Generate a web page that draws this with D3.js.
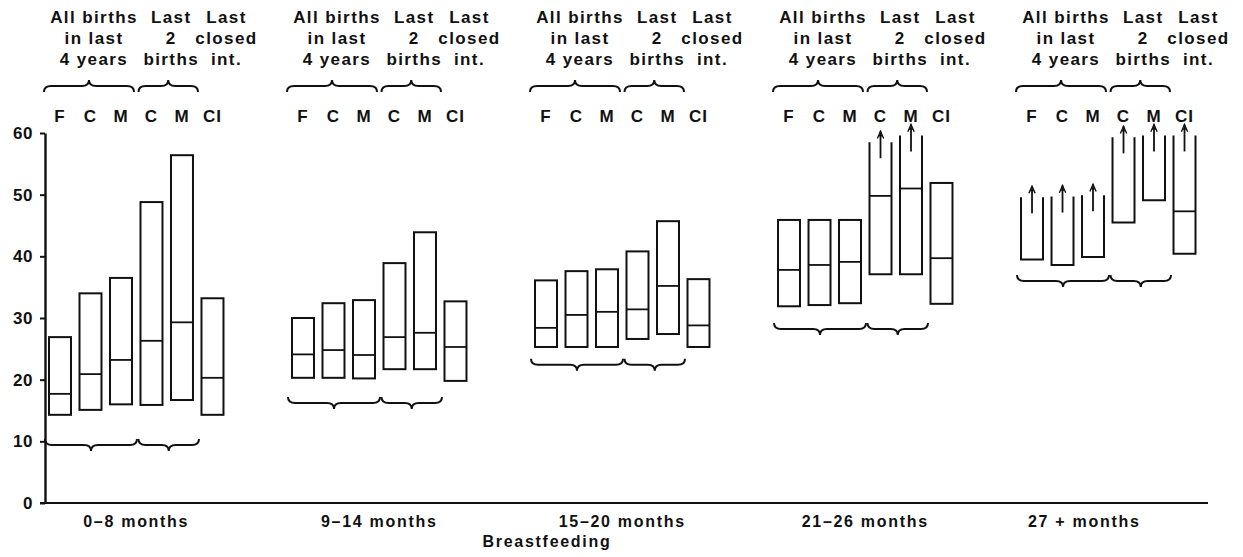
<!DOCTYPE html>
<html>
<head>
<meta charset="utf-8">
<script src="https://cdn.jsdelivr.net/npm/d3@7"></script>
<style>
  html, body { margin: 0; padding: 0; background: #fff; }
  svg text { font-family: "Liberation Sans", Arial, Helvetica, sans-serif; font-weight: bold; fill: #111; }
  .hdr { font-size: 17px; letter-spacing: 1.4px; }
  .ser { font-size: 17px; letter-spacing: 1px; }
  .grp { font-size: 16px; letter-spacing: 1.7px; }
  .ytk { font-size: 17px; letter-spacing: 0.6px; }
</style>
</head>
<body>
<svg id="chart" width="1243" height="557"></svg>
<script>
// breastfeeding duration groups
var groups = ["0–8 months", "9–14 months", "15–20 months", "21–26 months", "27 + months"];
var seriesKeys = ["F", "C", "M", "C2", "M2", "CI"];
var seriesLabels = ["F", "C", "M", "C", "M", "CI"];
var yTicks = [0, 10, 20, 30, 40, 50, 60];

var headerAll = ["All births", "in last", "4 years"];
var headerLast2 = ["Last", "2", "births"];
var headerClosed = ["Last", "closed", "int."];

// box tops / medians / bottoms (months), one row per group, F C M C M CI
var boxTop = [
    [26.9, 34.0, 36.5, 48.8, 56.4, 33.2],
    [30.0, 32.4, 32.9, 38.9, 43.9, 32.7],
    [36.1, 37.6, 37.9, 40.8, 45.7, 36.3],
    [45.9, 45.9, 45.9, 58.5, 59.6, 51.9],
    [49.6, 49.7, 49.9, 59.3, 59.6, 59.6]
];
var boxMedian = [
    [17.7, 20.9, 23.2, 26.3, 29.3, 20.3],
    [24.1, 24.8, 24.0, 26.9, 27.6, 25.3],
    [28.4, 30.5, 31.0, 31.4, 35.2, 28.8],
    [37.8, 38.6, 39.1, 49.8, 51.0, 39.7],
    [null, null, null, null, null, 47.3]
];
var boxBottom = [
    [14.3, 15.1, 16.0, 15.9, 16.7, 14.3],
    [20.3, 20.3, 20.2, 21.7, 21.7, 19.8],
    [25.3, 25.3, 25.3, 26.6, 27.4, 25.3],
    [31.9, 32.1, 32.4, 37.1, 37.1, 32.3],
    [39.5, 38.6, 39.9, 45.5, 49.1, 40.4]
];
// upper value not reached (open top, arrow)
var openTop = [
    [false, false, false, false, false, false],
    [false, false, false, false, false, false],
    [false, false, false, false, false, false],
    [false, false, false, true, true, false],
    [true, true, true, true, true, true]
];
// level of the lower braces under each group
var braceLevel = [9.4, 16.2, 22.4, 28.2, 36.0];

var svg = d3.select("#chart");
var INK = "#111";

var y = d3.scaleLinear().domain([0, 60]).range([503, 133]);
var xGroup = d3.scaleBand().domain(groups).range([49, 1195.5]).paddingInner(0.282).paddingOuter(0);
var xSeries = d3.scaleBand().domain(seriesKeys).range([0, xGroup.bandwidth()]).paddingInner(0.279).paddingOuter(0);
var bw = xSeries.bandwidth();

// ── axes ──────────────────────────────────────────────
var yAxis = svg.append("g")
    .attr("transform", "translate(45,0)")
    .call(d3.axisLeft(y).tickValues(yTicks).tickSize(5).tickPadding(7).tickSizeOuter(0));
yAxis.select(".domain").attr("stroke", INK).attr("stroke-width", 2.4);
yAxis.selectAll(".tick line").attr("stroke", INK).attr("stroke-width", 2);
yAxis.selectAll(".tick text").attr("class", "ytk");

svg.append("line")
    .attr("x1", 40).attr("x2", 1208)
    .attr("y1", y(0)).attr("y2", y(0))
    .attr("stroke", INK).attr("stroke-width", 2.2);

svg.selectAll("text.grp")
    .data(groups)
    .enter().append("text")
    .attr("class", "grp")
    .attr("x", function (d, i) { return xGroup(d) + xGroup.bandwidth() / 2 + (i === groups.length - 1 ? -24 : 0); })
    .attr("y", 527)
    .attr("text-anchor", "middle")
    .text(function (d) { return d; });

svg.append("text")
    .attr("class", "grp")
    .attr("x", 547).attr("y", 547)
    .attr("text-anchor", "middle")
    .text("Breastfeeding");

// ── braces ────────────────────────────────────────────
function brace(x1, x2, yy, dir) {
    // dir = -1 tip up, +1 tip down
    var h = 6, q = 7, xm = (x1 + x2) / 2;
    return "M" + x1 + "," + (yy - dir * h) +
        "Q" + x1 + "," + yy + " " + (x1 + q) + "," + yy +
        "L" + (xm - q) + "," + yy +
        "Q" + xm + "," + yy + " " + xm + "," + (yy + dir * h) +
        "Q" + xm + "," + yy + " " + (xm + q) + "," + yy +
        "L" + (x2 - q) + "," + yy +
        "Q" + x2 + "," + yy + " " + x2 + "," + (yy - dir * h);
}

groups.forEach(function (g, gi) {
    var gx = xGroup(g);
    var fL = gx + xSeries("F"), mR = gx + xSeries("M") + bw;
    var c2L = gx + xSeries("C2"), m2R = gx + xSeries("M2") + bw;
    var ciC = gx + xSeries("CI") + bw / 2;

    var b1 = [fL - 5, mR + 2], b2 = [c2L - 2, m2R + 5];
    [b1, b2].forEach(function (b) {
        svg.append("path").attr("d", brace(b[0], b[1], 86, -1))
            .attr("fill", "none").attr("stroke", INK).attr("stroke-width", 2);
    });

    var lb1 = [fL - 4, mR + 5], lb2 = [c2L - 2, m2R + 6];
    [lb1, lb2].forEach(function (b) {
        svg.append("path").attr("d", brace(b[0], b[1], y(braceLevel[gi]), 1))
            .attr("fill", "none").attr("stroke", INK).attr("stroke-width", 2);
    });

    // header text
    var heads = [
        { lines: headerAll, x: (b1[0] + b1[1]) / 2 + 5 },
        { lines: headerLast2, x: (b2[0] + b2[1]) / 2 + 3 },
        { lines: headerClosed, x: ciC + 14 }
    ];
    heads.forEach(function (hd) {
        hd.lines.forEach(function (ln, li) {
            svg.append("text").attr("class", "hdr")
                .attr("x", hd.x).attr("y", 23 + li * 21)
                .attr("text-anchor", "middle")
                .text(ln);
        });
    });

    // series letters
    seriesKeys.forEach(function (s, si) {
        svg.append("text").attr("class", "ser")
            .attr("x", gx + xSeries(s) + bw / 2).attr("y", 122)
            .attr("text-anchor", "middle")
            .text(seriesLabels[si]);
    });
});

// ── boxes ─────────────────────────────────────────────
var defs = svg.append("defs");
defs.append("marker")
    .attr("id", "arr")
    .attr("viewBox", "0 0 10 10")
    .attr("refX", 5).attr("refY", 1)
    .attr("markerWidth", 9).attr("markerHeight", 10)
    .attr("markerUnits", "userSpaceOnUse")
    .attr("orient", "0")
    .append("path")
    .attr("d", "M1.5,9 L5,1 L8.5,9 M2.8,6 L7.2,6")
    .attr("fill", "none").attr("stroke", INK).attr("stroke-width", 1.5);

var boxes = [];
groups.forEach(function (g, gi) {
    seriesKeys.forEach(function (s, si) {
        boxes.push({
            g: g, s: s,
            top: boxTop[gi][si], med: boxMedian[gi][si], bot: boxBottom[gi][si],
            open: openTop[gi][si]
        });
    });
});

var bg = svg.append("g").attr("fill", "none").attr("stroke", INK).attr("stroke-width", 2);

boxes.forEach(function (b) {
    var x0 = xGroup(b.g) + xSeries(b.s);
    if (b.open) {
        bg.append("path")
            .attr("d", "M" + x0 + "," + y(b.top) + "V" + y(b.bot) + "H" + (x0 + bw) + "V" + y(b.top));
        bg.append("line")
            .attr("x1", x0 + bw / 2).attr("x2", x0 + bw / 2)
            .attr("y1", y(b.top) + 16).attr("y2", y(b.top) - 11)
            .attr("stroke-width", 1.8)
            .attr("marker-end", "url(#arr)");
    } else {
        bg.append("rect")
            .attr("x", x0).attr("y", y(b.top))
            .attr("width", bw).attr("height", y(b.bot) - y(b.top));
    }
    if (b.med != null) {
        bg.append("line")
            .attr("x1", x0).attr("x2", x0 + bw)
            .attr("y1", y(b.med)).attr("y2", y(b.med))
            .attr("stroke-width", 1.8);
    }
});
</script>
</body>
</html>
